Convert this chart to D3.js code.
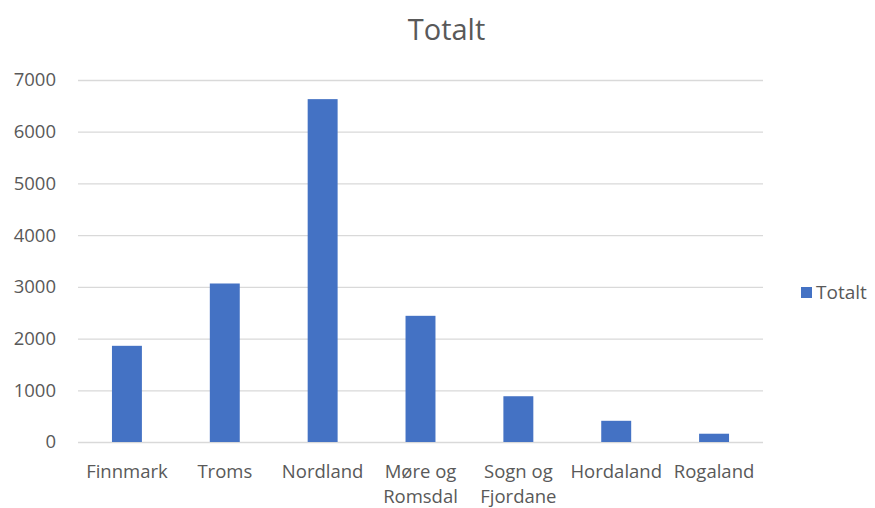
<!DOCTYPE html>
<html>
<head>
<meta charset="utf-8">
<script src="https://cdn.jsdelivr.net/npm/d3@7"></script>
<style>
  html, body { margin: 0; padding: 0; background: #ffffff; }
  svg { display: block; font-family: "Open Sans", "Noto Sans", sans-serif; }
</style>
</head>
<body>
<svg id="chart" width="875" height="508"></svg>
<script>
// Fylker og totalt antall
const categories = ["Finnmark", "Troms", "Nordland", "Møre og Romsdal", "Sogn og Fjordane", "Hordaland", "Rogaland"];
const totals = [1860, 3065, 6630, 2440, 885, 410, 160];
const yTicks = [0, 1000, 2000, 3000, 4000, 5000, 6000, 7000];
const seriesName = "Totalt";
const chartTitle = "Totalt";

const svg = d3.select("#chart");
const textColor = "#595959";
const barColor = "#4472c4";
const gridColor = "#d9d9d9";

const margin = { left: 78, right: 112, top: 80, bottom: 66 };
const width = 875, height = 508;

const x = d3.scaleBand()
  .domain(categories)
  .range([margin.left, width - margin.right])
  .paddingInner(0.694)
  .paddingOuter(0.347);

const y = d3.scaleLinear()
  .domain([0, 7000])
  .range([height - margin.bottom, margin.top]);

// Title
svg.append("text")
  .attr("x", (margin.left + width - margin.right) / 2 + 26)
  .attr("y", 40)
  .attr("text-anchor", "middle")
  .attr("fill", textColor)
  .attr("font-size", 29)
  .text(chartTitle);

// Gridlines and value labels
const yAxis = d3.axisLeft(y)
  .tickValues(yTicks)
  .tickSize(-(width - margin.right - margin.left))
  .tickPadding(22)
  .tickFormat(d3.format("d"));

const gy = svg.append("g")
  .attr("transform", `translate(${margin.left},0)`)
  .call(yAxis);
gy.select(".domain").remove();
gy.selectAll(".tick line").attr("stroke", gridColor).attr("stroke-width", 1.3);
gy.selectAll(".tick text")
  .attr("fill", textColor)
  .attr("font-size", 18.5)
  .attr("font-family", "Open Sans, Noto Sans, sans-serif");

// Bars
svg.append("g")
  .selectAll("rect")
  .data(categories.map((c, i) => ({ c, v: totals[i] })))
  .join("rect")
  .attr("x", d => x(d.c))
  .attr("width", x.bandwidth())
  .attr("y", d => y(d.v))
  .attr("height", d => y(0) - y(d.v))
  .attr("fill", barColor);

// Category labels, wrapped to the band width
const xAxis = d3.axisBottom(x).tickSize(0).tickPadding(0);
const gx = svg.append("g")
  .attr("transform", `translate(0,${y(0)})`)
  .call(xAxis);
gx.select(".domain").remove();
gx.selectAll(".tick text")
  .attr("fill", textColor)
  .attr("font-size", 18.5)
  .attr("font-family", "Open Sans, Noto Sans, sans-serif")
  .each(function(d) {
    const t = d3.select(this);
    const words = d.split(" ");
    const maxW = x.step() - 4;
    t.text(null);
    let line = [];
    let lines = [];
    const probe = t.append("tspan");
    words.forEach(w => {
      const trial = line.concat([w]).join(" ");
      probe.text(trial);
      if (probe.node().getComputedTextLength() > maxW && line.length) {
        lines.push(line.join(" "));
        line = [w];
      } else {
        line.push(w);
      }
    });
    lines.push(line.join(" "));
    probe.remove();
    t.attr("y", null).attr("dy", null);
    lines.forEach((ln, i) => {
      t.append("tspan")
        .attr("x", 0)
        .attr("y", 36 + i * 25)
        .text(ln);
    });
  });

// Legend
const lg = svg.append("g").attr("transform", "translate(801,287)");
lg.append("rect").attr("width", 11).attr("height", 11).attr("fill", barColor);
lg.append("text")
  .attr("x", 15)
  .attr("y", 11.5)
  .attr("fill", textColor)
  .attr("font-size", 19)
  .text(seriesName);
</script>
</body>
</html>
